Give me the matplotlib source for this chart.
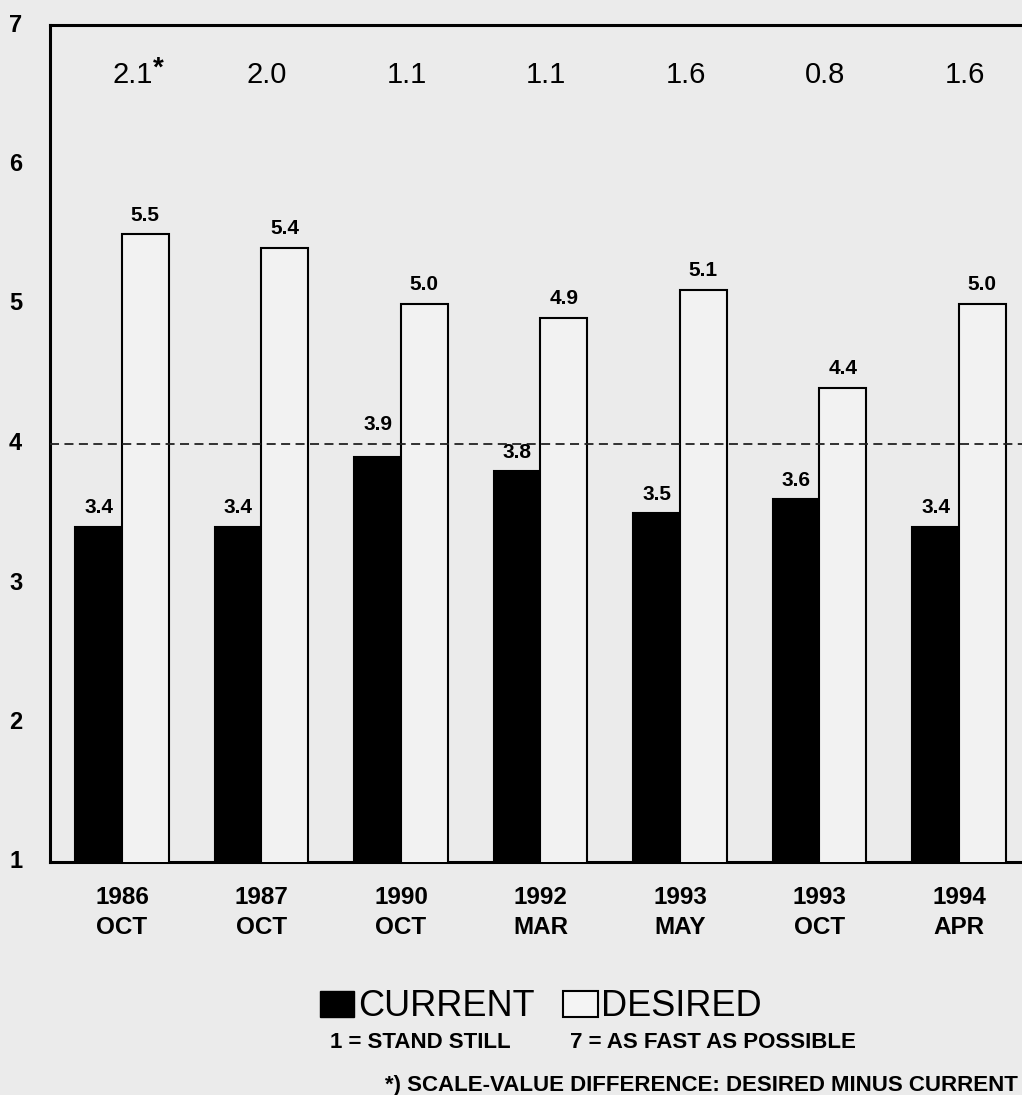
import matplotlib
matplotlib.use('Agg')
import matplotlib.pyplot as plt
from matplotlib.patches import Patch
import numpy as np

# ---- data ----
periods = ['1986\nOCT', '1987\nOCT', '1990\nOCT', '1992\nMAR', '1993\nMAY', '1993\nOCT', '1994\nAPR']
current = [3.4, 3.4, 3.9, 3.8, 3.5, 3.6, 3.4]
desired = [5.5, 5.4, 5.0, 4.9, 5.1, 4.4, 5.0]
difference = ['2.1', '2.0', '1.1', '1.1', '1.6', '0.8', '1.6']
yticks = [1, 2, 3, 4, 5, 6, 7]
reference_level = 4

plt.rcParams['font.family'] = ['Liberation Sans', 'DejaVu Sans']

BG = '#ebebeb'
fig = plt.figure(figsize=(10.22, 10.95), dpi=100, facecolor=BG)
ax = fig.add_axes([50/1022, 1-862/1095, 1-50/1022, (862-25)/1095])
ax.set_facecolor(BG)

x = np.arange(len(periods))
w = 0.335
ax.bar(x - w/2, current, width=w, bottom=0, color='black', edgecolor='black', linewidth=1.5, zorder=3)
ax.bar(x + w/2, desired, width=w, bottom=0, color='#f2f2f2', edgecolor='black', linewidth=1.5, zorder=3)

def value_label(xpos, val):
    off = 7
    # lift labels that would collide with the dashed reference line
    if reference_level - 0.15 < val < reference_level:
        off = 17
    ax.annotate(f'{val:.1f}', (xpos, val), xytext=(0, off), textcoords='offset points',
                ha='center', va='bottom', fontsize=15, fontweight='bold', zorder=5)

for xi, c, d in zip(x, current, desired):
    value_label(xi - w/2, c)
    value_label(xi + w/2, d)

for i, (xi, lab) in enumerate(zip(x, difference)):
    dx = 8 if i == 0 else 4
    ax.annotate(lab, (xi, 6.64), xytext=(dx, 0), textcoords='offset points',
                ha='center', va='center', fontsize=21, zorder=5)
    if i == 0:
        ax.annotate('*', (xi, 6.64), xytext=(dx + 18, 5), textcoords='offset points',
                    ha='center', va='center', fontsize=20, fontweight='bold', zorder=5)

ax.axhline(reference_level, color='#222222', linestyle=(0, (5, 3)), linewidth=1.3, zorder=4)

ax.set_ylim(1, 7)
ax.set_xlim(-0.516, 6.452)
ax.set_yticks(yticks)
ax.set_yticklabels([str(v) for v in yticks], fontsize=17, fontweight='bold')
ax.set_xticks(x)
ax.set_xticklabels(periods, fontsize=17.5, fontweight='bold', linespacing=1.4)
ax.tick_params(axis='both', length=0)
ax.tick_params(axis='y', pad=20)
ax.tick_params(axis='x', pad=17)
for lab in ax.get_yticklabels():
    lab.set_verticalalignment('center')

for s in ['left', 'top', 'bottom']:
    ax.spines[s].set_linewidth(2.2)
ax.spines['right'].set_visible(False)

handles = [Patch(facecolor='black', edgecolor='black'),
           Patch(facecolor='#f4f4f4', edgecolor='black', linewidth=1.5)]
fig.legend(handles, ['CURRENT', 'DESIRED'], loc='center', bbox_to_anchor=(541/1022, 1-1007/1095),
           ncol=2, frameon=False, fontsize=26, handlelength=0.95, handleheight=0.75,
           handletextpad=0.1, columnspacing=0.8)

fig.text(330/1022, 1-1042/1095, '1 = STAND STILL', ha='left', va='center', fontsize=16, fontweight='bold')
fig.text(570/1022, 1-1042/1095, '7 = AS FAST AS POSSIBLE', ha='left', va='center', fontsize=16, fontweight='bold')
fig.text(1018/1022, 1-1085/1095, '*) SCALE-VALUE DIFFERENCE: DESIRED MINUS CURRENT', ha='right', va='center',
         fontsize=16, fontweight='bold')

fig.savefig('out.png', dpi=100, facecolor=BG)
